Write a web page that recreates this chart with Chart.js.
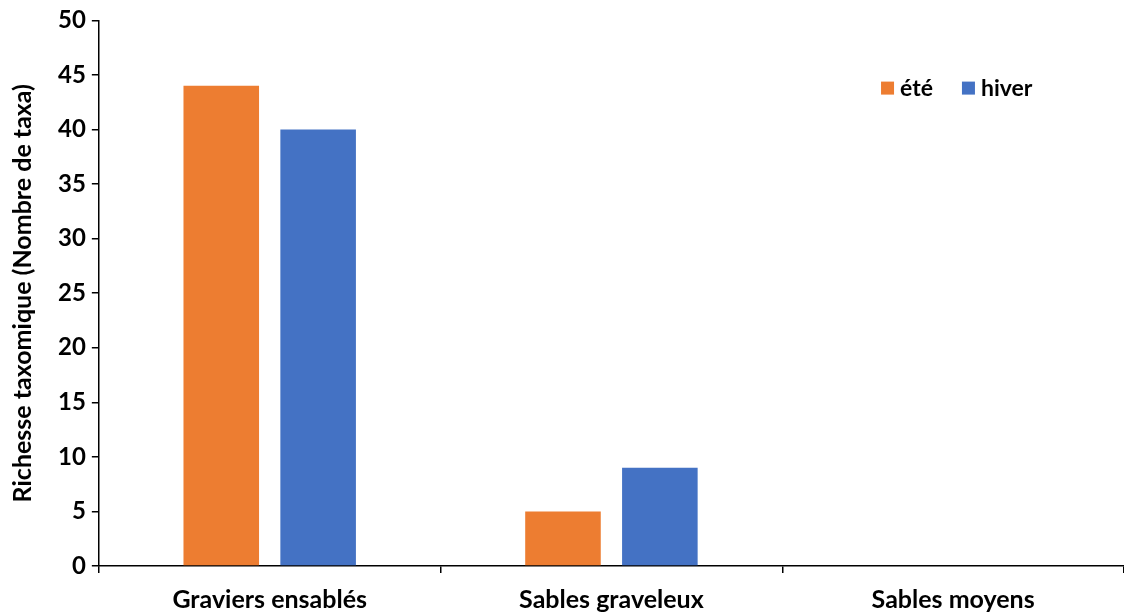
<!DOCTYPE html>
<html lang="fr">
<head>
  <meta charset="UTF-8" />
  <title>Richesse taxonomique</title>
  <script src="https://cdn.jsdelivr.net/npm/chart.js"></script>
  <style>
    body { margin: 0; background: #fff; }
    #wrap { width: 1124px; height: 614px; }
  </style>
</head>
<body>
  <div id="wrap"><canvas id="chart" width="1124" height="614"></canvas></div>
  <script>
    const categories = ["Graviers ensablés", "Sables graveleux", "Sables moyens"];
    const ete = [44, 5, 0];
    const hiver = [40, 9, 0];
    const seriesNames = ["été", "hiver"];
    const yTitle = "Richesse taxomique (Nombre de taxa)";

    const fontFam = "Lato, 'Open Sans', sans-serif";

    // legend drawn inside the plot, top right
    const innerLegend = {
      id: "innerLegend",
      afterDraw(chart) {
        const { ctx, chartArea } = chart;
        const y = chartArea.top + (chartArea.bottom - chartArea.top) * 0.125;
        let x = chartArea.left + (chartArea.right - chartArea.left) * 0.763;
        ctx.save();
        ctx.font = "bold 23px " + fontFam;
        ctx.textBaseline = "middle";
        chart.data.datasets.forEach(ds => {
          ctx.fillStyle = ds.backgroundColor;
          ctx.fillRect(x, y - 7, 13, 13);
          ctx.fillStyle = "#000";
          ctx.fillText(ds.label, x + 19, y);
          x += 19 + ctx.measureText(ds.label).width + 29;
        });
        ctx.restore();
      }
    };

    new Chart(document.getElementById("chart"), {
      type: "bar",
      data: {
        labels: categories,
        datasets: [
          { label: seriesNames[0], data: ete, backgroundColor: "#ED7D31" },
          { label: seriesNames[1], data: hiver, backgroundColor: "#4472C4" }
        ]
      },
      options: {
        responsive: false,
        animation: false,
        categoryPercentage: 0.567,
        barPercentage: 0.78,
        layout: { padding: { top: 8, right: 0, bottom: -13, left: 8 } },
        plugins: { legend: { display: false }, tooltip: { enabled: false } },
        scales: {
          x: {
            grid: { display: true, offset: true, drawOnChartArea: false, color: "#000", tickLength: 7, lineWidth: 1.5 },
            border: { color: "#000", width: 1.5 },
            ticks: { color: "#000", font: { family: fontFam, size: 25, weight: "bold" }, padding: 12 }
          },
          y: {
            min: 0, max: 50,
            grid: { drawOnChartArea: false, color: "#000", tickLength: 7, lineWidth: 1.5 },
            border: { color: "#000", width: 1.5 },
            ticks: { stepSize: 5, color: "#000", font: { family: fontFam, size: 24, weight: "bold" }, padding: 6 },
            title: { display: true, text: yTitle, color: "#000", font: { family: fontFam, size: 25, weight: "bold" }, padding: { top: 0, bottom: 14 } }
          }
        }
      },
      plugins: [innerLegend]
    });
  </script>
</body>
</html>
